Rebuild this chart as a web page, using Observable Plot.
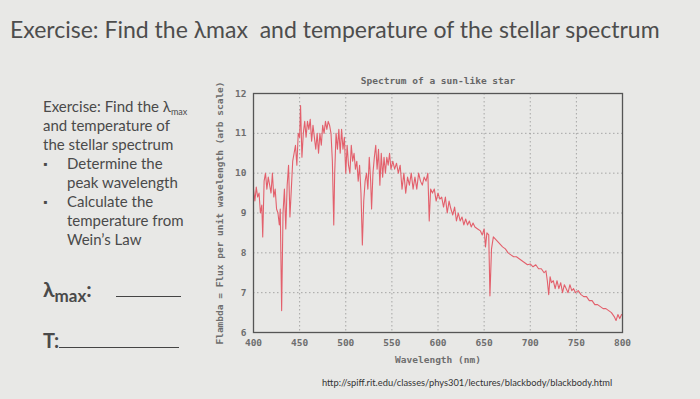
<!DOCTYPE html>
<html><head><meta charset="utf-8">
<script src="https://cdn.jsdelivr.net/npm/d3@7"></script>
<script src="https://cdn.jsdelivr.net/npm/@observablehq/plot@0.6"></script>
<style>
html,body{margin:0;padding:0;}
body{width:700px;height:399px;background:#e8e8e6;position:relative;overflow:hidden;font-family:Lato,"Open Sans",sans-serif;color:#4a4a4a;}
sub{vertical-align:-0.3em;line-height:0;}
#title{position:absolute;left:10px;top:15px;font-size:23px;white-space:nowrap;color:#4d4d4d;}
#side{position:absolute;left:43px;top:97px;font-size:15px;line-height:19px;color:#4a4a4a;}
#side .b{padding-left:24px;position:relative;}
#side .b::before{content:"▪";position:absolute;left:0px;font-size:11px;}
#side .i{padding-left:24px;}
#lmax{position:absolute;left:43px;top:276px;font-size:21px;font-weight:bold;color:#4a4a4a;white-space:nowrap;}
#tt{position:absolute;left:43px;top:328px;font-size:20px;font-weight:bold;color:#4a4a4a;white-space:nowrap;}
.ul{display:inline-block;border-bottom:1.5px solid #444;vertical-align:baseline;}
#chart{position:absolute;left:200px;top:60px;}
#url{position:absolute;left:322px;top:377px;font-size:9.3px;color:#333;white-space:nowrap;}
</style></head>
<body>
<div id="title">Exercise: Find the λmax&nbsp; and temperature of the stellar spectrum</div>
<div id="side">
<div>Exercise: Find the λ<sub style="font-size:9px">max</sub></div>
<div>and temperature of</div>
<div>the stellar spectrum</div>
<div class="b">Determine the</div>
<div class="i">peak wavelength</div>
<div class="b">Calculate the</div>
<div class="i">temperature from</div>
<div class="i">Wein’s Law</div>
</div>
<div id="lmax">λ<sub style="font-size:17px">max</sub>:<span class="ul" style="width:65px;margin-left:24px"></span></div>
<div id="tt">T:<span class="ul" style="width:120px"></span></div>
<div id="chart"></div>
<div id="url">http://spiff.rit.edu/classes/phys301/lectures/blackbody/blackbody.html</div>
<script>
const wavelength = [400,401.5,403,404.5,406,407.5,409,410,411.5,413,414.5,416,417.5,419,420.5,422,423.5,425,426.5,428,429,430.5,432,433.5,435,436.5,438,439.5,441,442.5,444,445.5,447,448.5,450,451,452.5,454,455.5,457,458.5,460,461.5,463,464.5,466,467.5,469,470.5,472,473.5,475,476.5,478,479.5,481,482.5,484,485.5,487,488,489.5,491,492.5,494,495.5,497,498.5,500,501.5,503,504.5,506,507.5,509,510.5,512,513.5,515,516.5,518,519.5,521,522.5,524,525.5,527,528,529.5,531,532.5,534,535.5,537,538.5,540,541.5,543,544.5,546,547.5,549,551,553,555,557,559,561,563,565,567,569,571,573,575,577,579,581,583,585,587,589,590.5,592,594,596,598,600,602,604,606,608,610,612,614,616,618,620,622,624,626,628,630,632,634,636,638,640,643,646,648,650,651.5,653,655,656.3,658,660,662,664,666,668,670,673,676,679,682,685,688,691,694,697,700,703,706,709,712,715,717,718.5,720,721.5,723,725,727,729,731,733,735,737,739,741,743,745,747,749,752,755,758,761,764,767,770,773,776,779,782,785,788,791,793,795,797,799];
const flux = [9.6,9.3,9.65,9.4,9.5,9.0,9.2,8.4,9.8,10.0,9.6,9.9,9.7,9.5,10.0,9.4,9.6,9.1,9.0,8.7,9.1,6.55,9.0,9.6,8.6,9.7,10.2,8.9,9.6,10.3,10.5,10.7,10.2,11.0,10.9,11.7,10.4,11.0,11.3,10.9,11.3,11.1,11.35,10.8,11.2,10.9,10.6,11.0,10.5,11.0,10.7,11.2,11.0,11.3,11.1,11.3,11.2,11.0,10.3,8.7,10.0,11.0,10.6,11.1,10.5,11.1,10.6,10.9,10.0,10.7,10.2,10.0,10.7,10.3,10.5,10.1,10.3,9.8,10.2,9.5,8.2,9.3,9.8,10.0,9.6,10.4,9.8,9.1,10.0,10.4,10.7,10.1,10.6,9.7,10.5,9.9,10.4,10.0,10.4,10.2,10.5,10.1,10.3,10.1,10.25,10.0,10.2,9.6,10.0,9.5,9.9,9.7,10.0,9.6,9.9,9.6,10.0,9.8,9.7,9.9,9.8,10.0,8.8,9.6,9.5,9.6,9.3,9.5,9.35,9.4,9.15,9.4,9.0,9.3,9.1,8.95,9.15,8.8,9.0,8.8,8.9,8.7,8.85,8.7,8.8,8.65,8.75,8.65,8.6,8.55,8.45,8.6,8.15,8.5,8.45,6.92,8.1,8.4,8.35,8.3,8.25,8.2,8.15,8.1,8.0,7.95,7.9,7.9,7.85,7.8,7.75,7.7,7.72,7.65,7.7,7.6,7.6,7.5,7.55,7.3,6.95,7.4,7.25,7.3,7.1,7.3,7.1,7.25,7.0,7.2,7.1,7.0,7.2,7.05,7.1,7.0,7.05,6.95,6.9,6.9,6.8,6.8,6.7,6.7,6.65,6.6,6.6,6.55,6.5,6.4,6.3,6.45,6.35,6.45];
const xTicks = [400,450,500,550,600,650,700,750,800];
const yTicks = [6,7,8,9,10,11,12];
const chartTitle = "Spectrum of a sun-like star";
const xLabel = "Wavelength (nm)";
const yLabel = "Flambda = Flux per unit wavelength (arb scale)";

const data = wavelength.map((w,i)=>({w, f: flux[i]}));
const mono = "'DejaVu Sans Mono', 'Liberation Mono', monospace";
const chart = Plot.plot({
  width: 440, height: 310,
  marginLeft: 53, marginTop: 33, marginRight: 18, marginBottom: 38,
  style: {fontFamily: mono, fontSize: "9.5px", color: "#6e6e6e", background: "transparent", overflow: "visible", fontWeight: "bold"},
  x: {domain: [400, 800]},
  y: {domain: [6, 12]},
  marks: [
    Plot.gridX(xTicks, {stroke: "#8a8a8a", strokeOpacity: 0.7, strokeDasharray: "1.5,2.5"}),
    Plot.gridY(yTicks, {stroke: "#8a8a8a", strokeOpacity: 0.7, strokeDasharray: "1.5,2.5"}),
    Plot.line(data, {x: "w", y: "f", stroke: "#e3606c", strokeWidth: 1.1}),
    Plot.frame({stroke: "#555", strokeWidth: 1.3}),
    Plot.axisX(xTicks, {tickSize: 0, tickPadding: 7, label: xLabel, labelAnchor: "center", labelArrow: "none", labelOffset: 30}),
    Plot.axisY(yTicks, {tickSize: 0, tickPadding: 7, label: yLabel, labelAnchor: "center", labelArrow: "none", labelOffset: 37}),
    Plot.text([chartTitle], {frameAnchor: "top", dy: -16, fontSize: 9.5, fill: "#666"})
  ]
});
document.getElementById("chart").append(chart);
</script>
</body></html>
